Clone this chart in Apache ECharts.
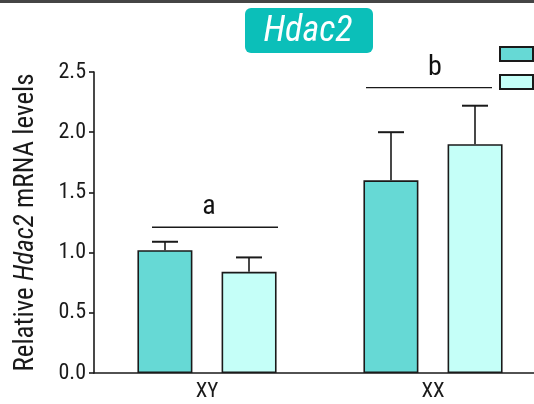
<!DOCTYPE html>
<html>
<head>
<meta charset="utf-8">
<style>
  html, body { margin: 0; padding: 0; background: #fff; overflow: hidden; width: 534px; height: 404px; }
  #chart { width: 546px; height: 404px; }
</style>
<script src="https://cdn.jsdelivr.net/npm/echarts@6/dist/echarts.min.js"></script>
</head>
<body>
<div id="chart"></div>
<script>
// Relative Hdac2 expression by sex-chromosome group
const categories = ['XY', 'XX'];
const groupNames = ['Group 1', 'Group 2'];
const group1Mean = [1.02, 1.60];
const group1Err = [0.07, 0.40];
const group2Mean = [0.84, 1.90];
const group2Err = [0.12, 0.32];
const sigLetters = ['a', 'b'];
const sigLevel = [1.21, 2.37];

const FONT = '"Roboto Condensed", "Liberation Sans Narrow", "Arial Narrow", sans-serif';
const INK = '#1a1a1a';
const BAR_W = 55;
const BAR_OFFSET = 42; // half distance between the two bars' centres

// the plot runs slightly past the right edge of the page, so the canvas is wider than the view
const chart = echarts.init(document.getElementById('chart'), null, { renderer: 'canvas' });

function errorRender(offset) {
  return function (params, api) {
    const x = api.coord([api.value(0), 0])[0] + offset;
    const top = api.coord([api.value(0), api.value(1)]);
    const hi = api.coord([api.value(0), api.value(1) + api.value(2)]);
    const capHalf = 13;
    return {
      type: 'group',
      children: [
        { type: 'line', shape: { x1: x, y1: top[1], x2: x, y2: hi[1] }, style: { stroke: INK, lineWidth: 1.6 } },
        { type: 'line', shape: { x1: x - capHalf, y1: hi[1], x2: x + capHalf, y2: hi[1] }, style: { stroke: INK, lineWidth: 2 } }
      ]
    };
  };
}

// horizontal spans of the significance lines, relative to the category centre
const sigSpan = [[-55, 71], [-67, 59]];

const option = {
  animation: false,
  grid: { left: 94, right: 0, top: 72, bottom: 31, containLabel: false },
  legend: {
    orient: 'vertical',
    left: 494, top: 41,
    icon: 'rect',
    itemWidth: 33, itemHeight: 14, itemGap: 12,
    itemStyle: { borderColor: INK, borderWidth: 2 },
    formatter: function () { return ''; },
    data: groupNames,
    selectedMode: false
  },
  graphic: [
    { type: 'rect', left: 0, top: 0, shape: { width: 546, height: 3 }, style: { fill: '#454545' }, z: 100 },
    {
      type: 'group', left: 245, top: 8, z: 100,
      children: [
        { type: 'rect', shape: { x: 0, y: 0, width: 128, height: 45, r: 6 }, style: { fill: '#0bbfb9' } },
        { type: 'text', x: 63, y: 24, style: { text: 'Hdac2', fill: '#fff', font: 'italic 36px ' + FONT, align: 'center', verticalAlign: 'middle' } }
      ]
    }
  ],
  xAxis: {
    type: 'category',
    data: categories,
    axisLine: { lineStyle: { color: INK, width: 1.6 } },
    axisTick: { alignWithLabel: true, length: 6, lineStyle: { color: INK, width: 1.6 } },
    axisLabel: { color: INK, fontFamily: FONT, fontSize: 21, margin: 8 }
  },
  yAxis: {
    type: 'value',
    min: 0, max: 2.5, interval: 0.5,
    name: '{n|Relative }{i|Hdac2}{n| mRNA levels}',
    nameLocation: 'middle',
    nameGap: 54,
    nameRotate: 90,
    nameTextStyle: {
      rich: {
        n: { fontFamily: FONT, fontSize: 27, color: INK },
        i: { fontFamily: FONT, fontSize: 27, color: INK, fontStyle: 'italic' }
      }
    },
    splitLine: { show: false },
    axisLine: { show: true, lineStyle: { color: INK, width: 1.6 } },
    axisTick: { show: true, length: 5, lineStyle: { color: INK, width: 1.6 } },
    axisLabel: {
      color: INK, fontFamily: FONT, fontSize: 22, margin: 8,
      formatter: function (v) { return v.toFixed(1); }
    }
  },
  series: [
    {
      name: groupNames[0], type: 'bar', data: group1Mean,
      barWidth: BAR_W, barGap: '53%',
      itemStyle: { color: '#66d9d5', borderColor: INK, borderWidth: 1.6 }
    },
    {
      name: groupNames[1], type: 'bar', data: group2Mean,
      barWidth: BAR_W, barGap: '53%',
      itemStyle: { color: '#c5fff8', borderColor: INK, borderWidth: 1.6 }
    },
    {
      type: 'custom', z: 5,
      data: group1Mean.map((m, i) => [i, m, group1Err[i]]),
      renderItem: errorRender(-BAR_OFFSET)
    },
    {
      type: 'custom', z: 5,
      data: group2Mean.map((m, i) => [i, m, group2Err[i]]),
      renderItem: errorRender(BAR_OFFSET)
    },
    {
      type: 'custom', z: 5,
      data: sigLevel.map((v, i) => [i, v]),
      renderItem: function (params, api) {
        const i = api.value(0);
        const p = api.coord([i, api.value(1)]);
        const span = sigSpan[i];
        return {
          type: 'group',
          children: [
            { type: 'line', shape: { x1: p[0] + span[0], y1: p[1], x2: p[0] + span[1], y2: p[1] }, style: { stroke: INK, lineWidth: 1.4 } },
            { type: 'text', x: p[0] + 2, y: p[1] - 6, style: { text: sigLetters[i], fill: '#111', font: '28px ' + FONT, align: 'center', verticalAlign: 'bottom' } }
          ]
        };
      }
    }
  ]
};

chart.setOption(option);
</script>
</body>
</html>
